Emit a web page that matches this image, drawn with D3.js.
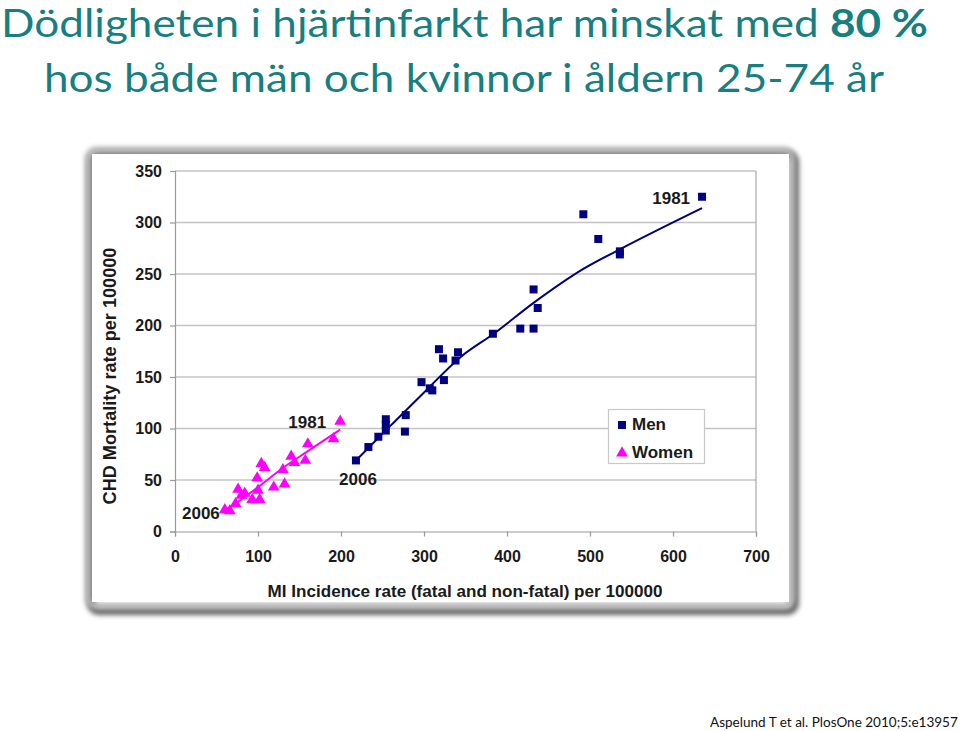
<!DOCTYPE html>
<html><head><meta charset="utf-8">
<script src="https://cdn.jsdelivr.net/npm/d3@7"></script>
<style>
html,body{margin:0;padding:0;background:#fff;}
svg{display:block;}
</style></head>
<body>
<svg id="c" width="960" height="731"></svg>
<script>
// ---- data ----
const titleLine1 = "Dödligheten i hjärtinfarkt har minskat med ";
const titleBold = "80 %";
const titleLine2 = "hos både män och kvinnor i åldern 25-74 år";
const footnote = "Aspelund T et al. PlosOne 2010;5:e13957";
const xAxisTitle = "MI Incidence rate (fatal and non-fatal) per 100000";
const yAxisTitle = "CHD Mortality rate per 100000";
const xTicks = [0,100,200,300,400,500,600,700];
const yTicks = [0,50,100,150,200,250,300,350];

const menX = [218,233,245,254,254,254,277,278,297,307,310,318,323,324,338,341,383,416,432,432,437,492,510,536,536,635];
const menY = [69,82,92,98,104,109,97,113,145,139,137,177,168,147,166,174,192,197,197,235,217,308,284,269,272,325];
const menTrendX = [218,260,300,345,384,432,492,536,635];
const menTrendY = [69,103,135,170,192,222,255,274,314];

const womenX = [60,66,73,76,80,84,93,99,100,102,104,108,119,130,132,140,144,157,160,191,199];
const womenY = [21,20,27,41,35,37,31,52,40,31,66,62,43,60,46,73,67,69,85,90,107];
const womenTrendX = [60,100,127,160,199];
const womenTrendY = [20,43,60,78,99];

const seriesNames = ["Men","Women"];
const yearLabels = ["2006","1981"];

// ---- layout ----
const svg = d3.select("#c");
const M = {left:175, right:756, top:171, bottom:531.5};
const x = d3.scaleLinear().domain([0,700]).range([M.left, M.right]);
const y = d3.scaleLinear().domain([0,350]).range([M.bottom, M.top]);

const teal = "#177f80";
const navy = "#000080";
const magenta = "#ff00ff";

function fitText(sel, target){
  const w = sel.node().getComputedTextLength();
  const fs = parseFloat(sel.attr("font-size"));
  sel.attr("font-size", fs*target/w);
}
// Title (condensed look: fixed height, stretched to the reference width)
const titleFont = "Lato, 'Open Sans', sans-serif";
const t1 = svg.append("text").attr("x",1).attr("y",37)
  .attr("font-family",titleFont).attr("font-size",38).attr("fill",teal)
  .attr("textLength",927).attr("lengthAdjust","spacingAndGlyphs");
t1.append("tspan").text(titleLine1);
t1.append("tspan").attr("font-weight","bold").text(titleBold);
svg.append("text").attr("x",44).attr("y",92)
  .attr("font-family",titleFont).attr("font-size",39).attr("fill",teal)
  .attr("textLength",840).attr("lengthAdjust","spacingAndGlyphs")
  .text(titleLine2);

// Frame with soft shadow
const defs = svg.append("defs");
const f = defs.append("filter").attr("id","blur").attr("x","-10%").attr("y","-10%").attr("width","120%").attr("height","120%");
f.append("feGaussianBlur").attr("stdDeviation",2.5);
svg.append("rect").attr("x",91).attr("y",154).attr("width",704).attr("height",457).attr("rx",8)
  .attr("fill","none").attr("stroke","#666").attr("stroke-width",8).attr("filter","url(#blur)");
svg.append("rect").attr("x",88).attr("y",150).attr("width",704).attr("height",456).attr("rx",8)
  .attr("fill","none").attr("stroke","#b8b8b8").attr("stroke-width",6).attr("filter","url(#blur)");
svg.append("rect").attr("x",92).attr("y",154).attr("width",697).attr("height",448).attr("fill","#fff");

// Gridlines
svg.append("g").selectAll("line").data(yTicks.filter(d=>d>0)).join("line")
  .attr("x1",M.left).attr("x2",M.right).attr("y1",d=>y(d)).attr("y2",d=>y(d))
  .attr("stroke","#c4c4c4").attr("stroke-width",1.5);
svg.append("line").attr("x1",M.right).attr("x2",M.right).attr("y1",M.top).attr("y2",M.bottom)
  .attr("stroke","#a8a8a8").attr("stroke-width",1.2);

// Axes
const fontChart = "'Liberation Sans', Arial, sans-serif";
const xAxis = d3.axisBottom(x).tickValues(xTicks).tickSize(5).tickPadding(14);
const gx = svg.append("g").attr("transform",`translate(0,${M.bottom})`).call(xAxis);
const yAxis = d3.axisLeft(y).tickValues(yTicks).tickSize(5).tickPadding(8);
const gy = svg.append("g").attr("transform",`translate(${M.left},0)`).call(yAxis);
[gx,gy].forEach(g=>{
  g.select(".domain").attr("stroke","#9a9a9a").attr("stroke-width",1.2);
  g.selectAll(".tick line").attr("stroke","#9a9a9a").attr("stroke-width",1.2);
  g.selectAll(".tick text").attr("font-family",fontChart).attr("font-weight","bold")
    .attr("font-size",16).attr("fill","#1a1a1a");
});
gx.selectAll(".tick text").attr("dy","0.71em");
gy.selectAll(".tick text").attr("x",-13);

// Axis titles
const xt = svg.append("text").attr("x",465).attr("y",597).attr("text-anchor","middle")
  .attr("font-family",fontChart).attr("font-weight","bold").attr("font-size",15).attr("fill","#1a1a1a")
  .text(xAxisTitle);
fitText(xt, 395);
const yt = svg.append("text").attr("transform","translate(116,376) rotate(-90)").attr("text-anchor","middle")
  .attr("font-family",fontChart).attr("font-weight","bold").attr("font-size",15).attr("fill","#1a1a1a")
  .text(yAxisTitle);
fitText(yt, 257);

// Trend lines
const line = d3.line().x(d=>x(d[0])).y(d=>y(d[1])).curve(d3.curveMonotoneX);
svg.append("path").datum(menTrendX.map((v,i)=>[v,menTrendY[i]]))
  .attr("d",line).attr("fill","none").attr("stroke",navy).attr("stroke-width",2);
svg.append("path").datum(womenTrendX.map((v,i)=>[v,womenTrendY[i]]))
  .attr("d",line).attr("fill","none").attr("stroke",magenta).attr("stroke-width",2);

// Points
const sq = 8;
svg.append("g").selectAll("rect").data(menX.map((v,i)=>[v,menY[i]])).join("rect")
  .attr("x",d=>x(d[0])-sq/2).attr("y",d=>y(d[1])-sq/2).attr("width",sq).attr("height",sq)
  .attr("fill",navy);
const tri = d3.symbol().type(d3.symbolTriangle).size(60);
svg.append("g").selectAll("path").data(womenX.map((v,i)=>[v,womenY[i]])).join("path")
  .attr("transform",d=>`translate(${x(d[0])},${y(d[1])})`).attr("d",tri).attr("fill",magenta);

// Year annotations
function yearLabel(txt, px, py, anchor, dx, dy){
  svg.append("text").attr("x",x(px)+dx).attr("y",y(py)+dy).attr("text-anchor",anchor)
    .attr("font-family",fontChart).attr("font-weight","bold").attr("font-size",17).attr("fill","#1a1a1a")
    .text(txt);
}
yearLabel(yearLabels[0], womenX[0], womenY[0], "end", -5, 9);
yearLabel(yearLabels[1], womenX[womenX.length-1], womenY[womenY.length-1], "end", -14, 7);
yearLabel(yearLabels[0], menX[0], menY[0], "middle", 2, 25);
yearLabel(yearLabels[1], menX[menX.length-1], menY[menY.length-1], "end", -12, 7);

// Legend
const lg = svg.append("g");
lg.append("rect").attr("x",608.5).attr("y",409.5).attr("width",96).attr("height",54)
  .attr("fill","#fff").attr("stroke","#c8c8c8").attr("stroke-width",1.2);
lg.append("rect").attr("x",618).attr("y",421).attr("width",8).attr("height",8).attr("fill",navy);
lg.append("path").attr("transform","translate(622,453)").attr("d",tri).attr("fill",magenta);
lg.append("text").attr("x",632).attr("y",430).attr("font-family",fontChart).attr("font-weight","bold")
  .attr("font-size",17).attr("fill","#1a1a1a").text(seriesNames[0]);
lg.append("text").attr("x",632).attr("y",458).attr("font-family",fontChart).attr("font-weight","bold")
  .attr("font-size",17).attr("fill","#1a1a1a").text(seriesNames[1]);

// Footnote
const fn = svg.append("text").attr("x",710).attr("y",727)
  .attr("font-family","Lato, 'Open Sans', sans-serif").attr("font-size",14).attr("fill","#111")
  .text(footnote);
fitText(fn, 248);
</script>
</body></html>
